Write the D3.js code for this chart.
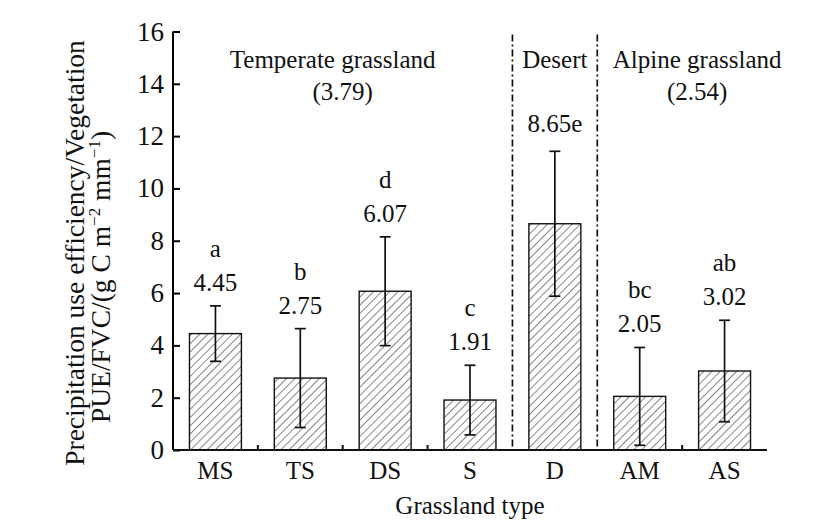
<!DOCTYPE html>
<html>
<head>
<meta charset="utf-8">
<script src="https://cdn.jsdelivr.net/npm/d3@7"></script>
<style>
  body { margin: 0; background: #fff; }
  text { font-family: "Liberation Serif", "Times New Roman", serif; fill: #111; }
</style>
</head>
<body>
<div id="viz-pue"></div>
<script>
/**********************/
/******* data         */
/**********************/

const types = ["MS", "TS", "DS", "S", "D", "AM", "AS"];
const pue = [4.45, 2.75, 6.07, 1.91, 8.65, 2.05, 3.02];
const sd = [1.06, 1.89, 2.08, 1.33, 2.77, 1.87, 1.94];
const letters = ["a", "b", "d", "c", "e", "bc", "ab"];
const yTicks = [0, 2, 4, 6, 8, 10, 12, 14, 16];
const groups = ["Temperate grassland", "Desert", "Alpine grassland"];
const groupMeans = ["(3.79)", "", "(2.54)"];
const groupSpans = [["MS", "S"], ["D", "D"], ["AM", "AS"]];

/**********************/
/******* d3           */
/**********************/

const width = 831, height = 529;
const margin = { left: 173, right: 64, top: 31.5, bottom: 79 };

const svg = d3.select("#viz-pue")
    .append("svg")
    .attr("width", width)
    .attr("height", height);

const x = d3.scaleBand()
    .domain(types)
    .range([margin.left, width - margin.right])
    .paddingInner(0.388)
    .paddingOuter(0.194);

const y = d3.scaleLinear()
    .domain([0, 16])
    .range([height - margin.bottom, margin.top]);

// hatch pattern for bars
svg.append("defs")
    .append("pattern")
    .attr("id", "hatch")
    .attr("patternUnits", "userSpaceOnUse")
    .attr("width", 5.8)
    .attr("height", 5.8)
    .attr("patternTransform", "rotate(45)")
    .append("line")
    .attr("x1", 0).attr("y1", 0)
    .attr("x2", 0).attr("y2", 5.8)
    .attr("stroke", "#222")
    .attr("stroke-width", 1.1);

const data = types.map((t, i) => ({ type: t, value: pue[i], err: sd[i], letter: letters[i] }));
const step = x.step();
const bandEdge = t => x(t) - (step - x.bandwidth()) / 2;   // left boundary of a category slot

// bars
svg.append("g")
    .selectAll("rect")
    .data(data)
    .enter()
    .append("rect")
    .attr("x", d => x(d.type))
    .attr("y", d => y(d.value))
    .attr("width", x.bandwidth())
    .attr("height", d => y(0) - y(d.value))
    .attr("fill", "url(#hatch)")
    .attr("stroke", "#111")
    .attr("stroke-width", 1.4);

// error bars
const err = svg.append("g")
    .attr("stroke", "#111")
    .attr("stroke-width", 1.7);

err.selectAll("line.stem")
    .data(data)
    .enter()
    .append("line")
    .attr("class", "stem")
    .attr("x1", d => x(d.type) + x.bandwidth() / 2)
    .attr("x2", d => x(d.type) + x.bandwidth() / 2)
    .attr("y1", d => y(d.value + d.err))
    .attr("y2", d => y(d.value - d.err));

err.selectAll("line.cap")
    .data(data.flatMap(d => [d.value + d.err, d.value - d.err].map(v => ({ type: d.type, v: v }))))
    .enter()
    .append("line")
    .attr("class", "cap")
    .attr("x1", d => x(d.type) + x.bandwidth() / 2 - 5.5)
    .attr("x2", d => x(d.type) + x.bandwidth() / 2 + 5.5)
    .attr("y1", d => y(d.v))
    .attr("y2", d => y(d.v));

// value labels (desert carries its letter on the same line)
svg.append("g")
    .selectAll("text")
    .data(data)
    .enter()
    .append("text")
    .text(d => d.type === "D" ? d.value.toFixed(2) + d.letter : d.value.toFixed(2))
    .attr("x", d => x(d.type) + x.bandwidth() / 2)
    .attr("y", d => y(d.value + d.err) - (d.type === "D" ? 19 : 15))
    .style("text-anchor", "middle")
    .style("font-size", "25px");

// significance letters
svg.append("g")
    .selectAll("text")
    .data(data.filter(d => d.type !== "D"))
    .enter()
    .append("text")
    .text(d => d.letter)
    .attr("x", d => x(d.type) + x.bandwidth() / 2)
    .attr("y", d => y(d.value + d.err) - 15 - 34)
    .style("text-anchor", "middle")
    .style("font-size", "25px");

// dash-dot separators between groups
svg.append("g")
    .selectAll("line")
    .data(["D", "AM"])
    .enter()
    .append("line")
    .attr("x1", d => bandEdge(d))
    .attr("x2", d => bandEdge(d))
    .attr("y1", y(16) + 3)
    .attr("y2", y(0))
    .attr("stroke", "#111")
    .attr("stroke-width", 1.7)
    .attr("stroke-dasharray", "7,3,2,3");

// y axis: ticks point inward
const yAxis = svg.append("g")
    .attr("transform", `translate(${margin.left},0)`)
    .call(d3.axisRight(y).tickValues(yTicks).tickSize(7).tickFormat(""));
yAxis.select(".domain").attr("stroke-width", 2).attr("d", `M0,${y(0)}V${y(16)}`);
yAxis.selectAll(".tick line").attr("stroke-width", 2);

svg.append("g")
    .selectAll("text")
    .data(yTicks)
    .enter()
    .append("text")
    .text(d => d)
    .attr("x", margin.left - 9)
    .attr("y", d => y(d) + 9)
    .style("text-anchor", "end")
    .style("font-size", "27px");

// x axis: small inner ticks at slot boundaries
svg.append("line")
    .attr("x1", margin.left)
    .attr("x2", width - margin.right)
    .attr("y1", y(0))
    .attr("y2", y(0))
    .attr("stroke", "#111")
    .attr("stroke-width", 2.2);

svg.append("g")
    .selectAll("line")
    .data(types.slice(1).filter(t => t !== "D" && t !== "AM"))
    .enter()
    .append("line")
    .attr("x1", d => bandEdge(d))
    .attr("x2", d => bandEdge(d))
    .attr("y1", y(0))
    .attr("y2", y(0) - 5)
    .attr("stroke", "#111")
    .attr("stroke-width", 2);

svg.append("g")
    .selectAll("text")
    .data(types)
    .enter()
    .append("text")
    .text(d => d)
    .attr("x", d => x(d) + x.bandwidth() / 2)
    .attr("y", y(0) + 29)
    .style("text-anchor", "middle")
    .style("font-size", "25px");

// group headings
const groupDx = [[-10, 0], [0, 0], [15, 15]];
groups.forEach((g, i) => {
    const x0 = groupSpans[i][0] === types[0] ? margin.left : bandEdge(groupSpans[i][0]);
    const last = types.indexOf(groupSpans[i][1]);
    const x1 = last === types.length - 1 ? width - margin.right : bandEdge(types[last + 1]);
    const cx = (x0 + x1) / 2;
    svg.append("text")
        .text(g)
        .attr("x", cx + groupDx[i][0])
        .attr("y", 68)
        .style("text-anchor", "middle")
        .style("font-size", "25px");
    if (groupMeans[i]) {
        svg.append("text")
            .text(groupMeans[i])
            .attr("x", cx + groupDx[i][1])
            .attr("y", 100)
            .style("text-anchor", "middle")
            .style("font-size", "25px");
    }
});

// axis titles
svg.append("text")
    .text("Grassland type")
    .attr("x", 470)
    .attr("y", 514)
    .style("text-anchor", "middle")
    .style("font-size", "25px");

svg.append("text")
    .text("Precipitation use efficiency/Vegetation")
    .attr("transform", "translate(84,253) rotate(-90)")
    .style("text-anchor", "middle")
    .style("font-size", "27.5px");

const yLab2 = svg.append("text")
    .attr("transform", "translate(110,277) rotate(-90)")
    .style("text-anchor", "middle")
    .style("font-size", "27.5px");
yLab2.append("tspan").text("PUE/FVC/(g C m");
yLab2.append("tspan").text("\u22122").attr("dy", -10).style("font-size", "17px");
yLab2.append("tspan").text(" mm").attr("dy", 10);
yLab2.append("tspan").text("\u22121").attr("dy", -10).style("font-size", "17px");
yLab2.append("tspan").text(")").attr("dy", 10);
</script>
</body>
</html>
